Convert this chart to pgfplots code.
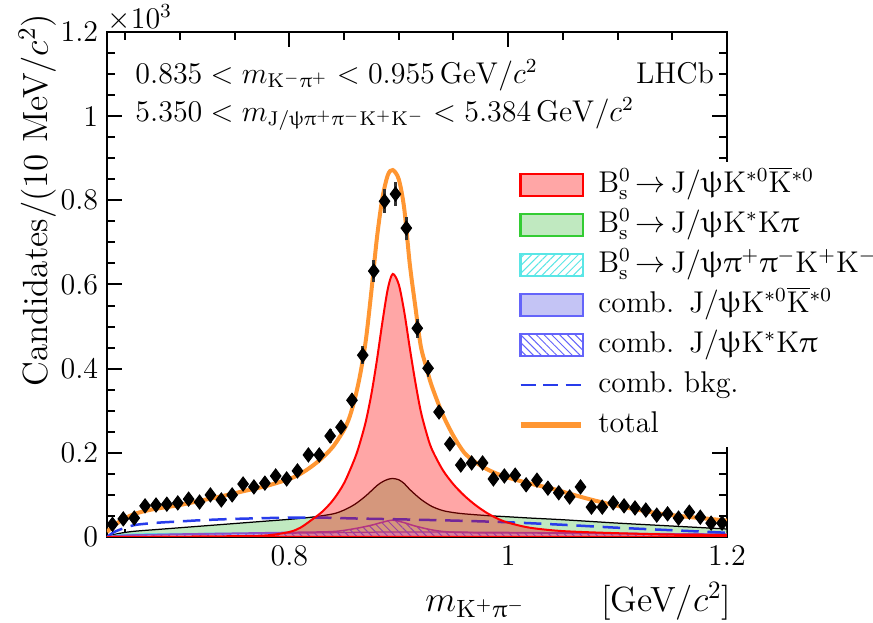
\documentclass[border=0pt]{standalone}
\usepackage{pgfplots}
\pgfplotsset{compat=1.18}
\usepackage{pgfplotstable}
\usepackage{upgreek}
\usetikzlibrary{patterns,patterns.meta,calc}

\definecolor{totorange}{RGB}{255,150,50}
\definecolor{sigred}{RGB}{255,0,0}
\definecolor{kkgreen}{RGB}{51,204,51}
\definecolor{kkgreenfill}{RGB}{192,233,192}
\definecolor{hcyan}{RGB}{90,230,230}
\definecolor{cblue}{RGB}{100,100,250}
\definecolor{cbluefill}{RGB}{196,196,245}
\definecolor{bkgblue}{RGB}{40,60,235}
\definecolor{hpurple}{RGB}{140,80,200}

% K+ pi- mass spectrum, thousands of candidates per bin
\pgfplotstableread{
x      y      ey
0.6383 0.030  0.0055
0.6482 0.043  0.0066
0.6582 0.045  0.0067
0.6681 0.074  0.0086
0.6781 0.076  0.0087
0.6880 0.078  0.0088
0.6980 0.081  0.0090
0.7079 0.090  0.0095
0.7179 0.083  0.0091
0.7278 0.100  0.0100
0.7378 0.088  0.0094
0.7477 0.100  0.0100
0.7577 0.126  0.0112
0.7676 0.119  0.0109
0.7776 0.128  0.0113
0.7875 0.145  0.0120
0.7975 0.138  0.0117
0.8074 0.157  0.0125
0.8174 0.195  0.0140
0.8273 0.195  0.0140
0.8373 0.240  0.0155
0.8472 0.261  0.0162
0.8572 0.325  0.0180
0.8671 0.432  0.0208
0.8771 0.632  0.0251
0.8870 0.798  0.0282
0.8970 0.815  0.0285
0.9069 0.734  0.0271
0.9169 0.496  0.0223
0.9268 0.401  0.0200
0.9368 0.297  0.0172
0.9467 0.221  0.0149
0.9567 0.171  0.0131
0.9666 0.176  0.0133
0.9766 0.176  0.0133
0.9865 0.138  0.0117
0.9965 0.145  0.0120
1.0064 0.147  0.0121
1.0164 0.124  0.0111
1.0263 0.135  0.0116
1.0363 0.116  0.0108
1.0462 0.105  0.0102
1.0562 0.095  0.0097
1.0661 0.119  0.0109
1.0761 0.071  0.0084
1.0860 0.071  0.0084
1.0960 0.081  0.0090
1.1059 0.074  0.0086
1.1159 0.069  0.0083
1.1258 0.064  0.0080
1.1358 0.052  0.0072
1.1457 0.055  0.0074
1.1557 0.045  0.0067
1.1656 0.059  0.0077
1.1756 0.047  0.0069
1.1855 0.033  0.0057
1.1955 0.033  0.0057
}\datatable

\pgfplotsset{
  boxleg/.style={legend image code/.code={\draw[##1] (0pt,-4.4pt) rectangle (25pt,4.4pt);}},
  lineleg/.style={legend image code/.code={\draw[##1] (0pt,0pt) -- (24pt,0pt);}},
}

\begin{document}
\begin{tikzpicture}
\begin{axis}[
  name=ax,
  scale only axis, width=248pt, height=202pt,
  xmin=0.6333, xmax=1.2, ymin=0, ymax=1.2,
  axis line style={line width=0.8pt},
  tick align=inside, xtick pos=both, ytick pos=both,
  xtick={0.8,1,1.2}, xticklabels={0.8,1,1.2},
  minor xtick={0.65,0.7,0.75,0.85,0.9,0.95,1.05,1.1,1.15},
  ytick={0,0.2,0.4,0.6,0.8,1,1.2}, yticklabels={0,0.2,0.4,0.6,0.8,1,1.2},
  minor ytick={0.05,0.1,0.15,0.25,0.3,0.35,0.45,0.5,0.55,0.65,0.7,0.75,0.85,0.9,0.95,1.05,1.1,1.15},
  major tick length=6pt, minor tick length=3.2pt,
  every tick/.style={line width=0.8pt, black},
  ticklabel style={font=\fontsize{12}{14}\selectfont},
  legend cell align=left,
  legend style={at={(rel axis cs:0.6492,0.7426)}, anchor=north west,
    fill=white, draw=none, inner sep=3pt,
    font=\fontsize{12}{14}\selectfont, row sep=4pt,
    nodes={inner sep=0pt, text height=9pt, text depth=3pt},
    /tikz/every odd column/.append style={column sep=5.6pt}},
]
% B0s -> J/psi K* K pi
\addplot[forget plot, fill=kkgreenfill, draw=black, line width=0.5pt, smooth] coordinates {
(0.6333,0) (0.64,0.006) (0.65,0.011) (0.66,0.014) (0.68,0.018) (0.70,0.022)
(0.72,0.026) (0.74,0.030) (0.76,0.034) (0.78,0.038) (0.80,0.042) (0.82,0.047)
(0.84,0.055) (0.85,0.064) (0.86,0.078) (0.87,0.098) (0.88,0.122) (0.885,0.131)
(0.89,0.137) (0.8945,0.139) (0.90,0.136) (0.905,0.127) (0.91,0.113) (0.92,0.090)
(0.93,0.073) (0.94,0.063) (0.95,0.058) (0.96,0.055) (0.98,0.051) (1.00,0.048)
(1.02,0.045) (1.05,0.041) (1.10,0.033) (1.15,0.026) (1.2,0.019)} \closedcycle;
% B0s -> J/psi pi pi K K
\addplot[forget plot, pattern={Lines[angle=45,distance=2.2pt,line width=0.4pt]}, pattern color=hcyan, draw=hcyan, line width=0.6pt, smooth] coordinates {
(0.6333,0) (0.65,0.006) (0.70,0.008) (0.80,0.009) (0.90,0.010) (1.00,0.009) (1.10,0.008) (1.2,0.006)} \closedcycle;
% comb. J/psi K*0 K*0bar
\addplot[forget plot, fill=cbluefill, draw=hpurple, line width=0.5pt, smooth] coordinates {
(0.6333,0) (0.65,0.004) (0.70,0.006) (0.80,0.009) (0.90,0.012) (1.00,0.011) (1.10,0.009) (1.2,0.007)} \closedcycle;
% comb. J/psi K* K pi
\addplot[forget plot, pattern={Lines[angle=-45,distance=2.2pt,line width=0.4pt]}, pattern color=cblue, draw=hpurple, line width=0.6pt, smooth] coordinates {
(0.6333,0) (0.65,0.004) (0.70,0.007) (0.75,0.009) (0.80,0.011) (0.84,0.013) (0.86,0.020)
(0.875,0.028) (0.885,0.035) (0.8945,0.040) (0.905,0.034) (0.915,0.026) (0.93,0.017)
(0.945,0.012) (0.97,0.010) (1.0,0.010) (1.1,0.008) (1.2,0.006)} \closedcycle;
% combinatorial background
\addplot[forget plot, draw=bkgblue, line width=1pt, dash pattern=on 7pt off 3.5pt, smooth] coordinates {
(0.6333,0) (0.64,0.012) (0.65,0.022) (0.66,0.029) (0.68,0.034) (0.70,0.037)
(0.72,0.040) (0.75,0.043) (0.78,0.045) (0.80,0.046) (0.83,0.046) (0.86,0.044)
(0.90,0.042) (0.95,0.039) (1.00,0.035) (1.05,0.029) (1.10,0.022) (1.15,0.016) (1.2,0.010)};
% B0s -> J/psi K*0 K*0bar signal
\addplot[forget plot, fill=sigred, fill opacity=0.35, draw=sigred, line width=0.8pt, smooth] coordinates {
(0.6333,0) (0.70,0.001) (0.75,0.002) (0.78,0.004) (0.80,0.012) (0.81,0.022)
(0.82,0.040) (0.83,0.060) (0.84,0.088) (0.85,0.128) (0.86,0.188) (0.865,0.228)
(0.87,0.276) (0.875,0.340) (0.88,0.420) (0.885,0.510) (0.89,0.590) (0.8945,0.625)
(0.90,0.600) (0.905,0.535) (0.91,0.450) (0.915,0.370) (0.92,0.300) (0.925,0.250)
(0.93,0.210) (0.94,0.160) (0.95,0.125) (0.96,0.098) (0.97,0.076) (0.98,0.058)
(0.99,0.044) (1.00,0.034) (1.02,0.022) (1.05,0.014) (1.10,0.009) (1.15,0.006) (1.2,0.005)} \closedcycle;
% total fit
\addplot[forget plot, draw=totorange, line width=1.6pt, smooth] coordinates {
(0.6333,0.012) (0.64,0.028) (0.65,0.045) (0.66,0.056) (0.67,0.063) (0.68,0.068)
(0.69,0.072) (0.70,0.076) (0.72,0.087) (0.74,0.098) (0.76,0.110) (0.78,0.122)
(0.80,0.138) (0.81,0.150) (0.82,0.167) (0.83,0.188) (0.84,0.215) (0.85,0.255)
(0.855,0.285) (0.86,0.330) (0.865,0.390) (0.87,0.470) (0.875,0.585) (0.88,0.710)
(0.885,0.805) (0.89,0.860) (0.8945,0.872) (0.90,0.850) (0.905,0.780) (0.91,0.650)
(0.915,0.550) (0.92,0.455) (0.925,0.405) (0.93,0.360) (0.94,0.292) (0.95,0.240)
(0.96,0.200) (0.97,0.178) (0.98,0.162) (0.99,0.150) (1.00,0.141) (1.02,0.127)
(1.04,0.115) (1.06,0.100) (1.08,0.086) (1.10,0.074) (1.12,0.064) (1.14,0.055)
(1.16,0.049) (1.18,0.044) (1.20,0.039)};
% data
\addplot[forget plot, only marks, mark=diamond*, mark size=2.8pt, black,
  error bars/.cd, y dir=both, y explicit, error mark=none,
  error bar style={line width=1.1pt, black!80}]
  table[x=x, y=y, y error=ey] {\datatable};

\addlegendimage{boxleg, fill=sigred, fill opacity=0.35, draw=sigred, line width=1pt}
\addlegendentry{$\mathrm{B}^0_{\mathrm{s}}\mkern3mu{\rightarrow}\,\mathrm{J}/\uppsi\mathrm{K}^{*0}\overline{\mathrm{K}}{}^{*0}$}
\addlegendimage{boxleg, fill=kkgreenfill, draw=kkgreen, line width=1pt}
\addlegendentry{$\mathrm{B}^0_{\mathrm{s}}\mkern3mu{\rightarrow}\,\mathrm{J}/\uppsi\mathrm{K}^{*}\mathrm{K}\uppi$}
\addlegendimage{boxleg, pattern={Lines[angle=45,distance=2.2pt,line width=0.4pt]}, pattern color=hcyan, draw=hcyan, line width=1pt}
\addlegendentry{$\mathrm{B}^0_{\mathrm{s}}\mkern3mu{\rightarrow}\,\mathrm{J}/\uppsi\uppi^+\uppi^-\mathrm{K}^+\mathrm{K}^-$}
\addlegendimage{boxleg, fill=cbluefill, draw=cblue, line width=1pt}
\addlegendentry{comb.\enspace$\mathrm{J}/\uppsi\mathrm{K}^{*0}\overline{\mathrm{K}}{}^{*0}$}
\addlegendimage{boxleg, pattern={Lines[angle=-45,distance=2.2pt,line width=0.4pt]}, pattern color=cblue, draw=cblue, line width=1pt}
\addlegendentry{comb.\enspace$\mathrm{J}/\uppsi\mathrm{K}^{*}\mathrm{K}\uppi$}
\addlegendimage{lineleg, draw=bkgblue, line width=1pt, dash pattern=on 6pt off 3pt}
\addlegendentry{comb.\ bkg.}
\addlegendimage{lineleg, draw=totorange, line width=2.4pt}
\addlegendentry{total}
\end{axis}

\node[anchor=base west, inner sep=0pt, font=\fontsize{12}{14}\selectfont]
  at ($(ax.north west)+(0pt,1.5pt)$) {$\times10^{3}$};
\node[rotate=90, anchor=base east, inner sep=0pt, font=\fontsize{14}{16}\selectfont]
  at ($(ax.north west)+(-23.6pt,7.5pt)$) {Candidates/(10 MeV/$c^2$)};
\node[anchor=base west, inner sep=0pt, font=\fontsize{14}{16}\selectfont]
  at ($(ax.south west)+(127.2pt,-30pt)$) {$m_{\mathrm{K}^+\uppi^-}$};
\node[anchor=base east, inner sep=0pt, font=\fontsize{14}{16}\selectfont]
  at ($(ax.south east)+(2pt,-30pt)$) {[GeV/$c^2$]};
\node[anchor=base west, inner sep=0pt, font=\fontsize{12}{14}\selectfont]
  at ($(ax.north west)+(11.2pt,-20.4pt)$) {$0.835 < m_{\mathrm{K}^-\uppi^+} < 0.955\,\mathrm{GeV}/c^2$};
\node[anchor=base west, inner sep=0pt, font=\fontsize{12}{14}\selectfont]
  at ($(ax.north west)+(11.2pt,-35.6pt)$) {$5.350 < m_{\mathrm{J}/\uppsi\uppi^+\uppi^-\mathrm{K}^+\mathrm{K}^-} < 5.384\,\mathrm{GeV}/c^2$};
\node[anchor=base east, inner sep=0pt, font=\fontsize{12}{14}\selectfont]
  at ($(ax.north east)+(-5pt,-20.4pt)$) {LHCb};

\pgfresetboundingbox
\path[use as bounding box] ($(ax.south west)+(-42.8pt,-34.4pt)$) rectangle ($(ax.north east)+(58.4pt,12.8pt)$);
\end{tikzpicture}
\end{document}
